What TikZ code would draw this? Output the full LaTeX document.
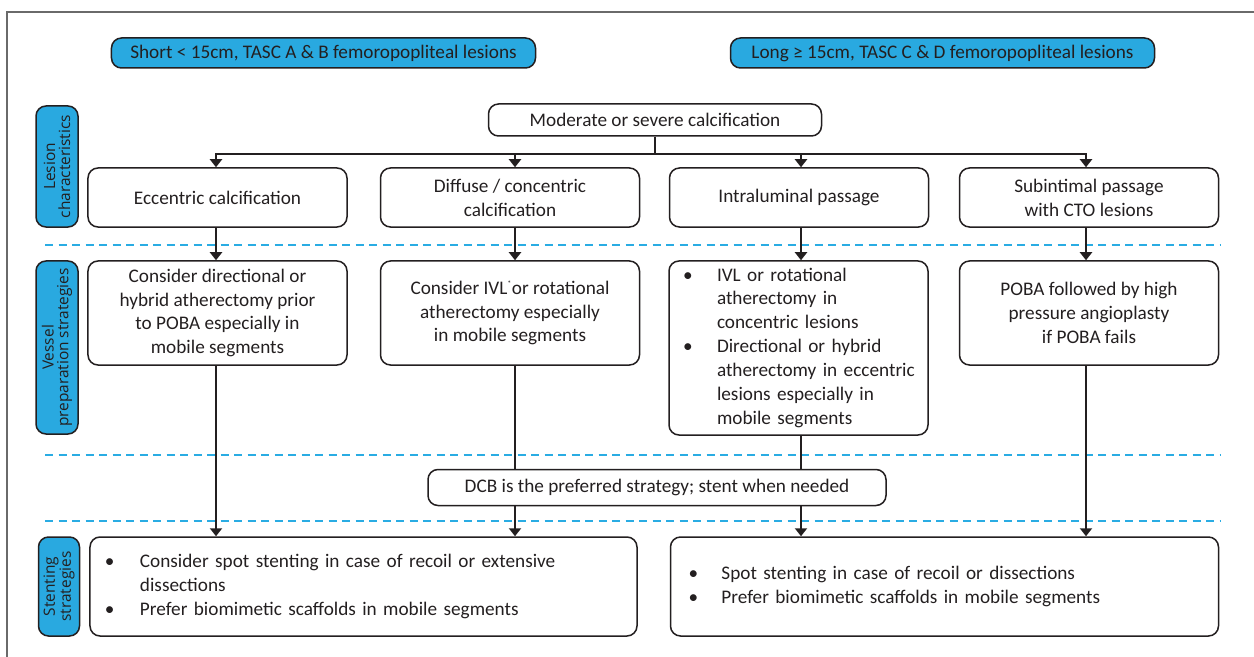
\documentclass[tikz,border=0pt]{standalone}
\usepackage{fontspec}
\setmainfont{Carlito}
\newfontfamily\sidefont{Open Sans}
\usetikzlibrary{arrows.meta}
\definecolor{ink}{HTML}{231F20}
\definecolor{cyanfill}{HTML}{29A9E0}
\definecolor{dashblue}{HTML}{2AACE3}
\definecolor{framegray}{HTML}{6A6A6A}
\begin{document}
\begin{tikzpicture}[x=1bp,y=-1bp,
  box/.style={draw=ink, line width=1.5bp, rounded corners=10bp, inner sep=0pt,
    align=center, text=ink, font=\fontsize{19.3}{24}\selectfont},
  tag/.style={box, fill=cyanfill},
  side/.style={draw=ink, line width=1.5bp, rounded corners=10bp, fill=cyanfill,
    inner sep=0pt, align=center, text=ink, rotate=90,
    font=\sidefont\fontsize{15.5}{15}\selectfont},
  conn/.style={draw=ink, line width=2bp},
  arr/.style={conn, -{Triangle[width=12bp,length=8bp]}},
  sep/.style={draw=dashblue, line width=2bp, dash pattern=on 8bp off 5.5bp}]
\useasboundingbox (0,0) rectangle (1254,657);
% frame
\draw[framegray, line width=1.5bp] (7,657) -- (7,12) -- (1254,12);
% column coordinates
\coordinate (xa) at (216,0);
\coordinate (xb) at (515,0);
\coordinate (xc) at (801,0);
\coordinate (xd) at (1086,0);
% top tags
\node[tag, minimum width=424bp, minimum height=30bp] (short) at (323.5,53)
  {Short < 15cm, TASC A \& B femoropopliteal lesions};
\node[tag, minimum width=424bp, minimum height=30bp] (long) at (942.5,53)
  {Long ≥ 15cm, TASC C \& D femoropopliteal lesions};
% side labels
\node[side, minimum width=121bp, minimum height=42bp] (sl1) at (57,166.5)
  {Lesion\\characteristics};
\node[side, minimum width=173bp, minimum height=42bp] (sl2) at (57,347.5)
  {Vessel\\preparation strategies};
\node[side, minimum width=99bp, minimum height=41bp] (sl3) at (59,586.5)
  {Stenting\\strategies};
% dashed separators
\draw[sep] (45,244.5) -- (1220,244.5);
\draw[sep] (45,454.5) -- (1220,454.5);
\draw[sep] (45,520.5) -- (1220,520.5);
% top node
\node[box, minimum width=333bp, minimum height=32bp] (mod) at (655,120)
  {Moderate or severe calcification};
% row 1
\node[box, minimum width=259bp, minimum height=59bp] (r1a) at (217.5,197.5)
  {Eccentric calcification};
\node[box, minimum width=259bp, minimum height=59bp] (r1b) at (510,197.5)
  {Diffuse / concentric\\calcification};
\node[box, minimum width=259bp, minimum height=59bp] (r1c) at (799,197.5)
  {Intraluminal passage};
\node[box, minimum width=259bp, minimum height=59bp] (r1d) at (1089,197.5)
  {Subintimal passage\\with CTO lesions};
% row 2
\node[box, minimum width=259bp, minimum height=104bp] (r2a) at (217.5,313)
  {Consider directional or\\hybrid atherectomy prior\\to POBA especially in\\mobile segments};
\node[box, minimum width=259bp, minimum height=104bp] (r2b) at (510,313)
  {Consider IVL\textsuperscript{\fontsize{8}{8}\selectfont *}or rotational\\atherectomy especially\\in mobile segments};
\node[box, minimum width=259bp, minimum height=174bp, text width=231bp, inner xsep=14bp, align=left] (r2c) at (798.5,348)
  {\begin{tabular}{@{}p{34bp}@{}l@{}}
   • & IVL or rotational\\
     & atherectomy in\\
     & concentric lesions\\
   • & Directional or hybrid\\
     & atherectomy in eccentric\\
     & lesions especially in\\
     & mobile segments
   \end{tabular}};
\node[box, minimum width=259bp, minimum height=104bp] (r2d) at (1089,313)
  {POBA followed by high\\pressure angioplasty\\if POBA fails};
% DCB
\node[box, minimum width=458bp, minimum height=36bp] (dcb) at (657,487.5)
  {DCB is the preferred strategy; stent when needed};
% row 3
\node[box, minimum width=547bp, minimum height=99bp, text width=517bp, inner xsep=15bp, align=left] (s1) at (363.5,586.5)
  {\begin{tabular}{@{}p{35bp}@{}l@{}}
   • & Consider spot stenting in case of recoil or extensive\\
     & dissections\\
   • & Prefer biomimetic scaffolds in mobile segments
   \end{tabular}};
\node[box, minimum width=548bp, minimum height=99bp, text width=512bp, inner xsep=18bp, align=left] (s2) at (944.5,586.5)
  {\begin{tabular}{@{}p{33bp}@{}l@{}}
   • & Spot stenting in case of recoil or dissections\\
   • & Prefer biomimetic scaffolds in mobile segments
   \end{tabular}};
% connectors
\path (mod.south) ++(0,17) coordinate (hub);
\draw[conn] (mod.south) -- (hub);
\draw[arr] (hub) -| (r1a.north -| xa);
\draw[arr] (hub) -| (r1b.north -| xb);
\draw[arr] (hub) -| (r1c.north -| xc);
\draw[arr] (hub) -| (r1d.north -| xd);
\draw[arr] (r1a.south -| xa) -- (r2a.north -| xa);
\draw[arr] (r1b.south -| xb) -- (r2b.north -| xb);
\draw[arr] (r1c.south -| xc) -- (r2c.north -| xc);
\draw[arr] (r1d.south -| xd) -- (r2d.north -| xd);
\draw[arr] (r2a.south -| xa) -- (s1.north -| xa);
\draw[conn] (r2b.south -| xb) -- (dcb.north -| xb);
\draw[conn] (r2c.south -| xc) -- (dcb.north -| xc);
\draw[arr] (dcb.south -| xb) -- (s1.north -| xb);
\draw[arr] (dcb.south -| xc) -- (s2.north -| xc);
\draw[arr] (r2d.south -| xd) -- (s2.north -| xd);
\end{tikzpicture}
\end{document}
